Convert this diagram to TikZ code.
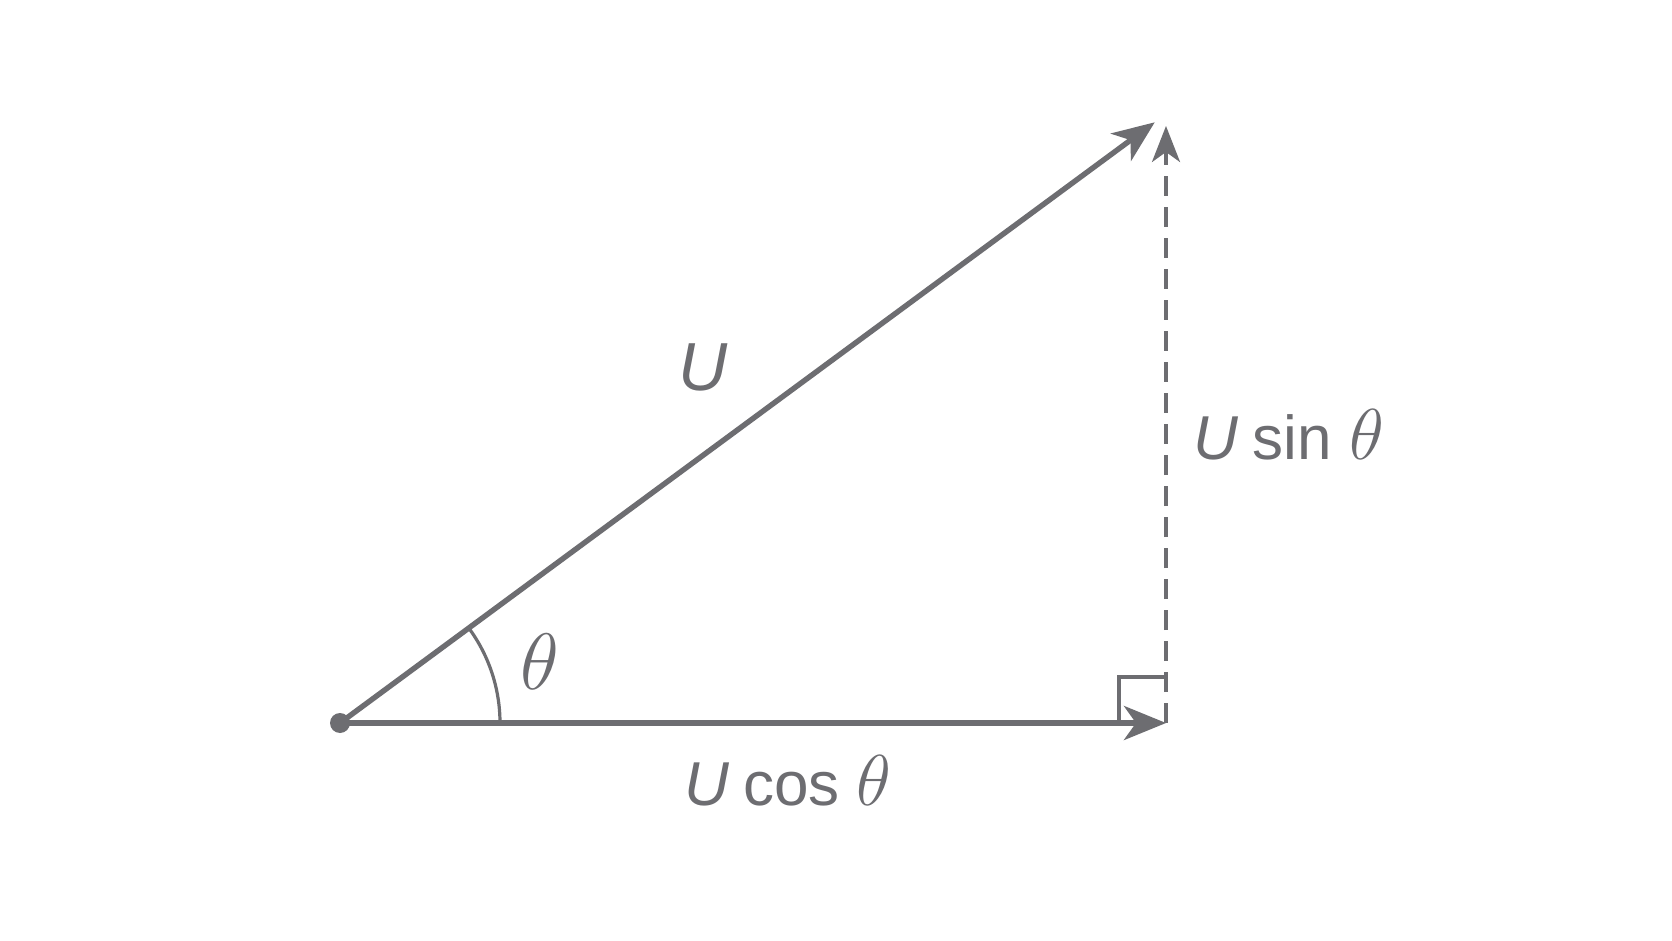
\RequirePackage{fix-cm}
\documentclass[tikz,border=0pt]{standalone}
\usepackage{fontspec}
\setmainfont{Liberation Sans}
\usetikzlibrary{arrows.meta}
\definecolor{ink}{HTML}{6D6D71}
\newcommand{\thetabig}{{\fontsize{36}{40}\selectfont$\theta$}}
\tikzset{
  vec/.style={ink, line width=2.7pt, -{Stealth[length=21pt,width=17pt,inset=6pt]}},
  comp/.style={ink, line width=1.7pt, dash pattern=on 10pt off 5.5pt, -{Stealth[length=18pt,width=14pt,inset=5pt]}},
  thin/.style={ink, line width=1.6pt},
  lbl/.style={text=ink, inner sep=0pt, font=\fontsize{31}{36}\selectfont},
  biglbl/.style={text=ink, inner sep=0pt, font=\fontsize{34}{40}\selectfont}
}
\begin{document}
\begin{tikzpicture}[x=0.5pt,y=-0.5pt]
\useasboundingbox[fill=white] (0,0) rectangle (1672,941);
\coordinate (O) at (340,723);
\coordinate (C) at (1166,723);
\coordinate (A) at (1166,114);
% right-angle mark
\draw[thin] (1166,677) -- (1119,677) -- (1119,723);
% angle arc
\draw[thin] (500,723) arc[start angle=0, end angle=-36.4, radius=160];
% vectors
\draw[vec, shorten >=7pt] (O) -- (A);
\draw[vec] (O) -- (C);
\draw[comp, shorten >=6pt] (C) -- (A);
\fill[ink] (O) circle[radius=5pt];
% labels
\node[biglbl] (lu) at (703,367) {\textit{U}};
\node[text=ink, inner sep=0pt] (lt) at (540,662) {{\fontsize{40}{44}\selectfont$\theta$}};
\node[lbl] (ls) at (1289,435) {\textit{U}\hspace{0.22em}sin\hspace{0.28em}\thetabig};
\node[lbl] (lc) at (788,781) {\textit{U}\hspace{0.22em}cos\hspace{0.28em}\thetabig};
\end{tikzpicture}
\end{document}
